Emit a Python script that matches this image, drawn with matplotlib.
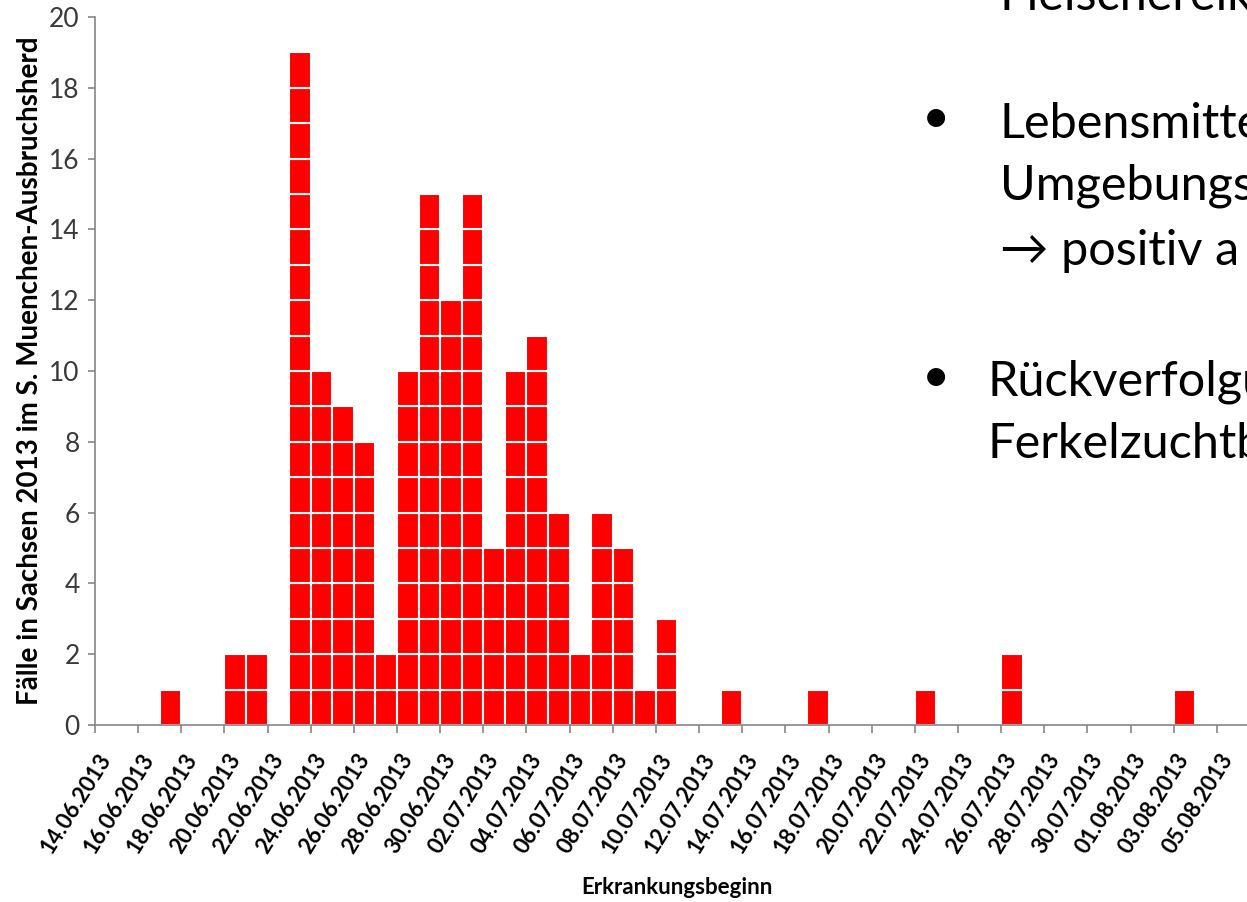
import numpy as np
import pandas as pd
import matplotlib
matplotlib.use("Agg")
import matplotlib.pyplot as plt

# Erkrankungsbeginn (onset date) and number of cases per day
onset_dates = [
    "17.06.2013", "20.06.2013", "21.06.2013", "23.06.2013", "24.06.2013",
    "25.06.2013", "26.06.2013", "27.06.2013", "28.06.2013", "29.06.2013",
    "30.06.2013", "01.07.2013", "02.07.2013", "03.07.2013", "04.07.2013",
    "05.07.2013", "06.07.2013", "07.07.2013", "08.07.2013", "09.07.2013",
    "10.07.2013", "13.07.2013", "17.07.2013", "22.07.2013", "26.07.2013",
    "03.08.2013",
]
case_counts = [
    1, 2, 2, 19, 10,
    9, 8, 2, 10, 15,
    12, 15, 5, 10, 11,
    6, 2, 6, 5, 1,
    3, 1, 1, 1, 2,
    1,
]

tick_labels = [
    "14.06.2013", "16.06.2013", "18.06.2013", "20.06.2013", "22.06.2013",
    "24.06.2013", "26.06.2013", "28.06.2013", "30.06.2013", "02.07.2013",
    "04.07.2013", "06.07.2013", "08.07.2013", "10.07.2013", "12.07.2013",
    "14.07.2013", "16.07.2013", "18.07.2013", "20.07.2013", "22.07.2013",
    "24.07.2013", "26.07.2013", "28.07.2013", "30.07.2013", "01.08.2013",
    "03.08.2013", "05.08.2013",
]

FIRST_DAY = "14.06.2013"
N_DAYS = 54

FONT = ["Lato", "DejaVu Sans"]
plt.rcParams["font.family"] = FONT

W, H = 1247, 902
fig = plt.figure(figsize=(W / 100, H / 100), dpi=100)
fig.patch.set_facecolor("white")

ax = fig.add_axes([95 / W, (H - 725) / H, (1260 - 95) / W, (725 - 17) / H])

start = pd.to_datetime(FIRST_DAY, format="%d.%m.%Y")
days = np.array([(pd.to_datetime(d, format="%d.%m.%Y") - start).days for d in onset_dates])
counts = np.array(case_counts)

# one box per case, stacked
for level in range(counts.max()):
    mask = counts > level
    ax.bar(days[mask] + 0.5, 1, bottom=level, width=1.0, align="center",
           color="#ff0000", edgecolor="white", linewidth=1.5, zorder=2)

ax.set_xlim(0, N_DAYS)
ax.set_ylim(0, 20)

# tick marks on category boundaries, labels centred on the category
label_days = np.array([(pd.to_datetime(d, format="%d.%m.%Y") - start).days for d in tick_labels])
ax.set_xticks(label_days, minor=False)
ax.set_xticklabels([])
ax.set_xticks(label_days + 0.5, minor=True)
ax.set_xticklabels(tick_labels, minor=True, rotation=58, ha="right", va="center",
                   rotation_mode="anchor", fontsize=16, fontweight="bold")
ax.tick_params(axis="x", which="major", length=6, width=1.2, color="#868686", direction="out")
ax.tick_params(axis="x", which="minor", length=0, pad=22)

ax.set_yticks(np.arange(0, 21, 2))
ax.tick_params(axis="y", length=5, width=1.2, color="#868686", labelsize=19,
               labelcolor="#3a3a3a", pad=6)

for side in ["top", "right"]:
    ax.spines[side].set_visible(False)
for side in ["left", "bottom"]:
    ax.spines[side].set_color("#868686")
    ax.spines[side].set_linewidth(1.2)

fig.text(30 / W, 1 - 371 / H, "Fälle in Sachsen 2013 im S. Muenchen-Ausbruchsherd",
         rotation=90, ha="center", va="center", fontsize=20, fontweight="bold")
fig.text(677 / W, 1 - 888 / H, "Erkrankungsbeginn", ha="center", va="center",
         fontsize=16, fontweight="bold")

# slide text next to the chart (cut off at the right edge, as on the slide)
slide_size = 35
def slide_text(x, y, s):
    fig.text(x / W, 1 - y / H, s, ha="left", va="baseline", fontsize=slide_size,
             color="black", family=FONT)

slide_text(1000, 10, "Fleischereik")
fig.text(936 / W, 1 - 118 / H, "•", ha="center", va="center", fontsize=slide_size)
slide_text(1000, 138, "Lebensmitte")
slide_text(1000, 200, "Umgebungs")
slide_text(1000, 265, "→ positiv a")
fig.text(936 / W, 1 - 377 / H, "•", ha="center", va="center", fontsize=slide_size)
slide_text(988, 395, "Rückverfolgu")
slide_text(988, 458, "Ferkelzuchtb")

fig.savefig("out.png", dpi=100)
